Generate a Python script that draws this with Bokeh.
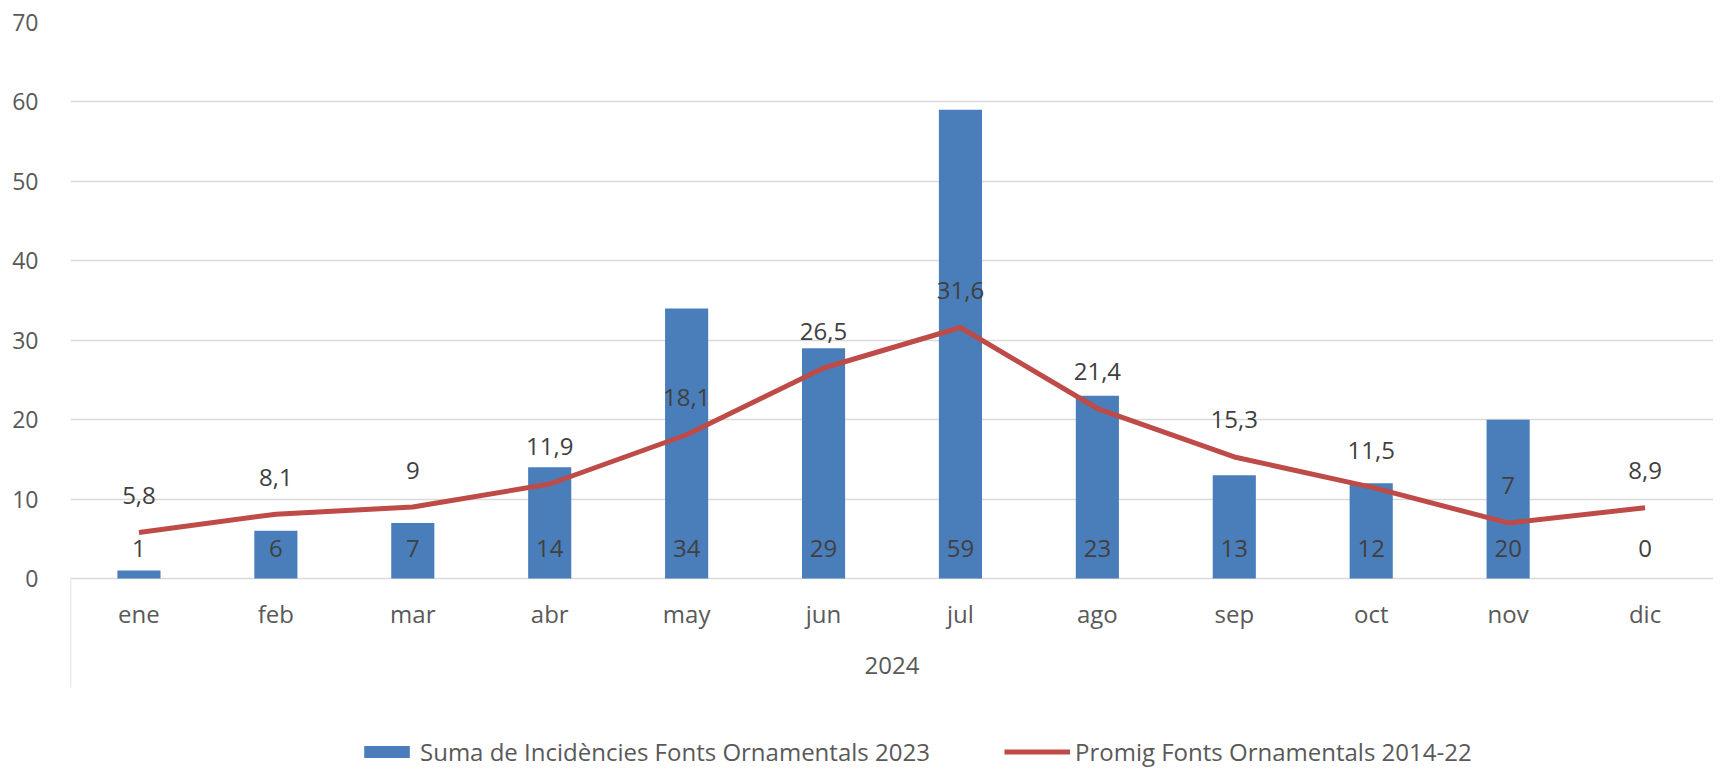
from bokeh.plotting import figure
from bokeh.models import (ColumnDataSource, Range1d, FixedTicker, Legend, LegendItem)
from bokeh.core.properties import value
from bokeh.embed import file_html
from bokeh.resources import INLINE

# ---- data ----
months = ["ene", "feb", "mar", "abr", "may", "jun", "jul", "ago", "sep", "oct", "nov", "dic"]
incidencies_2023 = [1, 6, 7, 14, 34, 29, 59, 23, 13, 12, 20, 0]
promig_2014_22 = [5.8, 8.1, 9, 11.9, 18.1, 26.5, 31.6, 21.4, 15.3, 11.5, 7, 8.9]
year_label = "2024"
y_ticks = [0, 10, 20, 30, 40, 50, 60, 70]
bar_name = "Suma de Incidències Fonts Ornamentals 2023"
line_name = "Promig Fonts Ornamentals 2014-22"

# ---- styles ----
FONT = "Open Sans"
FS = "24px"
BLUE = "#4a7ebb"
RED = "#be4b48"
TXT = "#404040"
AXTXT = "#595959"
GRID = "#d9d9d9"

W, H = 1713, 770
top_border, left_border = 22, 70
frame_h = H - top_border
px_per_unit = 556 / 70.0
y_start = 70 - frame_h / px_per_unit

def fmt(v):
    s = ("%g" % v)
    return s.replace(".", ",")

xs = [i + 0.5 for i in range(len(months))]
src = ColumnDataSource(dict(
    x=xs, month=months, bars=incidencies_2023, line=promig_2014_22,
    bar_lbl=[fmt(v) for v in incidencies_2023],
    line_lbl=[fmt(v) for v in promig_2014_22],
    zero=[0] * len(months),
))

p = figure(width=W, height=H, output_backend="svg", toolbar_location=None,
           x_range=Range1d(0, len(months)), y_range=Range1d(y_start, 70),
           x_axis_location=None, min_border_top=top_border, min_border_left=left_border,
           min_border_right=0, min_border_bottom=0)
p.outline_line_color = None
p.background_fill_color = "white"
p.border_fill_color = "white"

# y axis
p.yaxis.ticker = FixedTicker(ticks=y_ticks)
p.yaxis.axis_line_color = None
p.yaxis.major_tick_line_color = None
p.yaxis.minor_tick_line_color = None
p.yaxis.major_label_standoff = 26
p.yaxis.major_label_text_font = FONT
p.yaxis.major_label_text_font_size = "23px"
p.yaxis.major_label_text_color = AXTXT
p.ygrid.ticker = FixedTicker(ticks=y_ticks)
p.ygrid.grid_line_color = GRID
p.ygrid.grid_line_width = 1.5
p.xgrid.grid_line_color = None

# category separator line (left edge of category axis)
p.segment(x0=[0], y0=[0], x1=[0], y1=[-109 / px_per_unit], line_color=GRID, line_width=1.5)

bars = p.vbar(x="x", top="bars", width=0.315, source=src, fill_color=BLUE, line_color=None)
line = p.line(x="x", y="line", source=src, line_color=RED, line_width=5, line_join="round")

# data labels
p.text(x="x", y="zero", text="bar_lbl", source=src, y_offset=-30, text_align="center",
       text_baseline="middle", text_font=value(FONT), text_font_size=FS, text_color=TXT)
p.text(x="x", y="line", text="line_lbl", source=src, y_offset=-37, text_align="center",
       text_baseline="middle", text_font=value(FONT), text_font_size=FS, text_color=TXT)

# category labels
p.text(x="x", y="zero", text="month", source=src, y_offset=35, text_align="center",
       text_baseline="middle", text_font=value(FONT), text_font_size=FS, text_color=AXTXT)
p.text(x=[len(months) / 2], y=[0], text=[year_label], y_offset=87, text_align="center",
       text_baseline="middle", text_font=value(FONT), text_font_size=FS, text_color=AXTXT)

def mk_legend(item, loc, gw):
    lg = Legend(items=[item], location=loc, orientation="horizontal",
                glyph_width=gw, glyph_height=15, label_standoff=5, padding=0, margin=0,
                border_line_color=None, background_fill_alpha=0,
                label_text_font=FONT, label_text_font_size=FS, label_text_color=AXTXT,
                label_height=15, label_text_baseline="middle")
    p.add_layout(lg)

# legend positions are relative to the frame's bottom-left corner
mk_legend(LegendItem(label=bar_name, renderers=[bars]), (288, 2), 57)
mk_legend(LegendItem(label=line_name, renderers=[line]), (934, 2), 66)

open("out.html", "w").write(file_html(p, INLINE))
